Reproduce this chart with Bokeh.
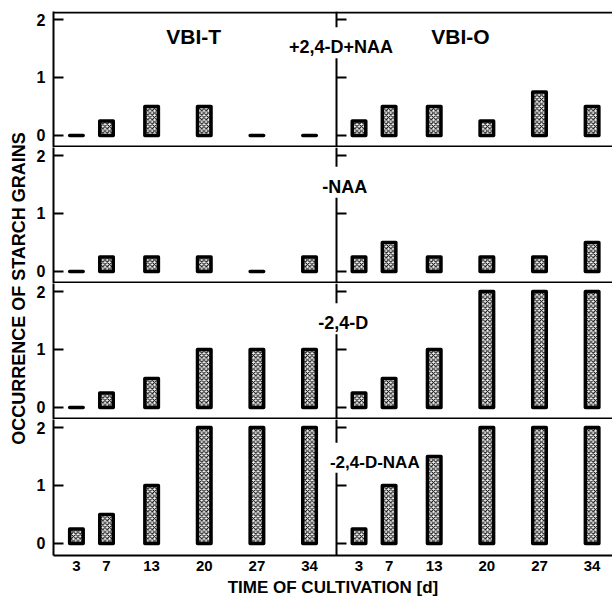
from bokeh.plotting import figure
from bokeh.models import (Range1d, LinearAxis, FixedTicker, Label,
                          ColumnDataSource, CustomJSTickFormatter)
from bokeh.layouts import row, column
from bokeh.embed import file_html
from bokeh.resources import INLINE

# ---------------- data ----------------
days = [3, 7, 13, 20, 27, 34]
y_ticks = [0, 1, 2]
cultures = ["VBI-T", "VBI-O"]
treatments = ["+2,4-D+NAA", "-NAA", "-2,4-D", "-2,4-D-NAA"]

vbi_t_both = [0, 0.25, 0.5, 0.5, 0, 0]
vbi_o_both = [0.25, 0.5, 0.5, 0.25, 0.75, 0.5]
vbi_t_no_naa = [0, 0.25, 0.25, 0.25, 0, 0.25]
vbi_o_no_naa = [0.25, 0.5, 0.25, 0.25, 0.25, 0.5]
vbi_t_no_24d = [0, 0.25, 0.5, 1, 1, 1]
vbi_o_no_24d = [0.25, 0.5, 1, 2, 2, 2]
vbi_t_none = [0.25, 0.5, 1, 2, 2, 2]
vbi_o_none = [0.25, 1, 1.5, 2, 2, 2]

x_label = "TIME OF CULTIVATION [d]"
y_label = "OCCURRENCE OF STARCH GRAINS"

# ---------------- layout / style ----------------
FONT = "Liberation Sans"
X0, X1 = -0.05, 74.29          # left panel (VBI-T) range over the whole frame
OFF = 37.58                    # where the VBI-O panel starts, in left-panel days
Y0, Y1 = -0.207, 2.138
PX = (Y1 - Y0) / 136           # one pixel in y units
LAB_W = 28
ROW_W = 584
FRAME_H = 136
TOP_B = 11
BOT_B = 45
BAR_W = 1.8


def style_bars(**kw):
    return dict(fill_color="#f2f2f2", hatch_pattern="x", hatch_scale=4.5,
                hatch_weight=1, hatch_color="black", line_color="black",
                line_width=3.5, line_join="round", **kw)


def line_axis(loc):
    return LinearAxis(fixed_location=loc, ticker=FixedTicker(ticks=[]),
                      axis_line_width=2, axis_line_color="black",
                      major_tick_line_color=None, minor_tick_line_color=None,
                      major_label_text_color=None)


def make_row(t_vals, o_vals, treat, tx, ty, first=False, last=False, fs="18px"):
    top = TOP_B if first else 0
    bottom = BOT_B if last else 0
    p = figure(width=ROW_W, height=FRAME_H + top + bottom,
               x_range=Range1d(X0, X1), y_range=Range1d(Y0, Y1),
               output_backend="svg", toolbar_location=None, tools="",
               x_axis_location="below" if last else None,
               y_axis_location="left",
               min_border_left=25, min_border_right=0,
               min_border_top=top, min_border_bottom=bottom)
    p.extra_x_ranges = {"right": Range1d(X0 - OFF, X1 - OFF)}
    p.outline_line_color = None
    p.xgrid.visible = False
    p.ygrid.visible = False

    yax = p.left[0]
    yax.ticker = FixedTicker(ticks=y_ticks)
    yax.major_tick_in = 10
    yax.major_tick_out = 0
    yax.minor_tick_line_color = None
    yax.axis_line_width = 2
    yax.major_tick_line_width = 2
    yax.major_label_standoff = 8
    yax.major_label_text_font = FONT
    yax.major_label_text_font_style = "bold"
    yax.major_label_text_font_size = "16px"
    yax.major_label_text_color = "black"

    if last:
        xax = p.below[0]
        xax.ticker = FixedTicker(ticks=days + [d + OFF for d in days])
        xax.formatter = CustomJSTickFormatter(
            args=dict(off=OFF),
            code="return (tick > off ? tick - off : tick).toFixed(0)")
        xax.major_tick_line_color = None
        xax.minor_tick_line_color = None
        xax.major_tick_out = 0
        xax.major_tick_in = 0
        xax.axis_line_width = 2
        xax.major_label_standoff = 5
        xax.major_label_text_font = FONT
        xax.major_label_text_font_style = "bold"
        xax.major_label_text_font_size = "15px"
        xax.major_label_text_color = "black"
        xax.axis_label = x_label
        xax.axis_label_standoff = 4
        xax.axis_label_text_font = FONT
        xax.axis_label_text_font_style = "bold"
        xax.axis_label_text_font_size = "17px"
        xax.axis_label_text_color = "black"

    mid = LinearAxis(x_range_name="right", fixed_location=0,
                     ticker=FixedTicker(ticks=y_ticks),
                     major_label_overrides={t: "" for t in y_ticks},
                     major_tick_in=10, major_tick_out=0,
                     axis_line_width=2, major_tick_line_width=2,
                     minor_tick_line_color=None, major_label_text_color=None)
    p.add_layout(mid, "left")

    if first:
        p.add_layout(line_axis(Y1 - PX), "above")
    if not last:
        p.add_layout(line_axis(Y0 + PX), "below")

    src_t = ColumnDataSource(dict(day=days, v=t_vals))
    src_o = ColumnDataSource(dict(day=days, v=o_vals))
    p.vbar(x="day", top="v", bottom=0, width=BAR_W, source=src_t, **style_bars())
    p.vbar(x="day", top="v", bottom=0, width=BAR_W, source=src_o,
           x_range_name="right", **style_bars())

    p.add_layout(Label(x=tx, y=ty, x_range_name="right", text=treat,
                       text_align="center", text_baseline="middle",
                       text_font=FONT, text_font_style="bold",
                       text_font_size=fs, text_color="black",
                       background_fill_color="white", padding=(10, 1, 10, 1)))
    return p


r1 = make_row(vbi_t_both, vbi_o_both, treatments[0], 0.0, 1.60, first=True)
r1.add_layout(Label(x=18.6, y=1.70, text=cultures[0], text_align="center",
                    text_baseline="middle", text_font=FONT,
                    text_font_style="bold", text_font_size="21px",
                    text_color="black"))
r1.add_layout(Label(x=16.5, y=1.70, x_range_name="right", text=cultures[1],
                    text_align="center", text_baseline="middle",
                    text_font=FONT, text_font_style="bold",
                    text_font_size="21px", text_color="black"))
r2 = make_row(vbi_t_no_naa, vbi_o_no_naa, treatments[1], 0.5, 1.54)
r3 = make_row(vbi_t_no_24d, vbi_o_no_24d, treatments[2], 0.3, 1.53)
r4 = make_row(vbi_t_none, vbi_o_none, treatments[3], 4.5, 1.48, last=True,
              fs="17px")

TOTAL_H = (FRAME_H + TOP_B) + FRAME_H * 3 + (FRAME_H + BOT_B)
lab = figure(width=LAB_W, height=TOTAL_H, x_range=Range1d(0, 1),
             y_range=Range1d(0, 1), output_backend="svg",
             toolbar_location=None, tools="", x_axis_location=None,
             y_axis_location=None, min_border=0)
lab.outline_line_color = None
lab.xgrid.visible = False
lab.ygrid.visible = False
lab.add_layout(Label(x=18 / LAB_W, y=1 - 288 / TOTAL_H, text=y_label, angle=90,
                     angle_units="deg", text_align="center",
                     text_baseline="middle", text_font=FONT,
                     text_font_style="bold", text_font_size="18px",
                     text_color="black"))

layout = row(lab, column(r1, r2, r3, r4))
open("out.html", "w").write(file_html(layout, INLINE))
